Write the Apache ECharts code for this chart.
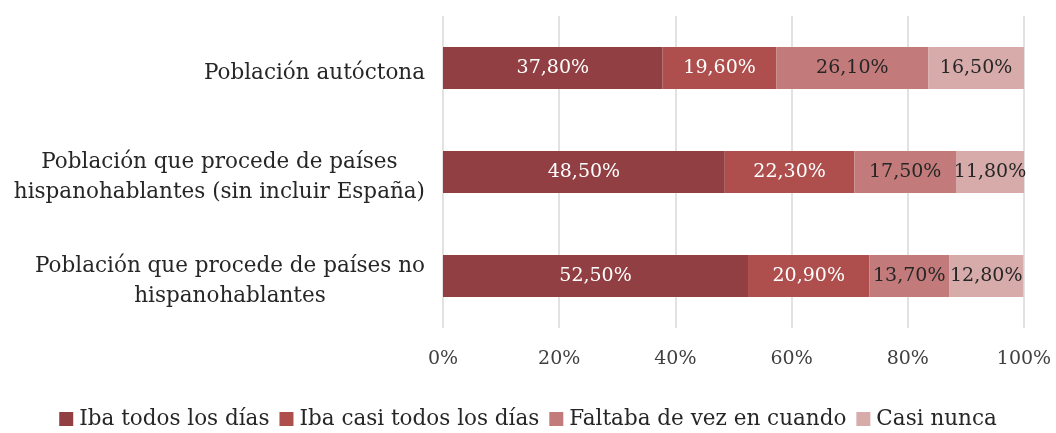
<!DOCTYPE html>
<html>
<head>
<meta charset="utf-8">
<script src="https://cdn.jsdelivr.net/npm/echarts@6/dist/echarts.min.js"></script>
<style>
  html, body { margin: 0; padding: 0; background: #fff; }
  #chart { width: 1056px; height: 433px; }
</style>
</head>
<body>
<div id="chart"></div>
<script>
// datos
var categorias = [
    'Población autóctona',
    'Población que procede de países\nhispanohablantes (sin incluir España)',
    'Población que procede de países no\nhispanohablantes'
];
var series = ['Iba todos los días', 'Iba casi todos los días', 'Faltaba de vez en cuando', 'Casi nunca'];
var todosDias = [37.8, 48.5, 52.5];
var casiTodos = [19.6, 22.3, 20.9];
var deVezEnCuando = [26.1, 17.5, 13.7];
var casiNunca = [16.5, 11.8, 12.8];
var ticks = [0, 20, 40, 60, 80, 100];

var colores = ['#913f42', '#ae4f4d', '#c27a7a', '#d8abab'];
var colorTexto = ['#ffffff', '#ffffff', '#262626', '#262626'];
var fuente = '"DejaVu Serif", "Liberation Serif", serif';

(function () {
    var myChart = echarts.init(document.getElementById('chart'));

    var valores = [todosDias, casiTodos, deVezEnCuando, casiNunca];

    var option = {
        animation: false,
        textStyle: { fontFamily: fuente },
        grid: {
            left: 443,
            right: 32,
            top: 16,
            bottom: 105
        },
        legend: {
            data: series,
            bottom: -2,
            left: 'center',
            itemWidth: 14,
            itemHeight: 14,
            itemGap: 10,
            icon: 'rect',
            textStyle: {
                fontFamily: fuente,
                fontSize: 21.5,
                color: '#262626',
                padding: [0, 0, 0, 1]
            }
        },
        xAxis: {
            type: 'value',
            min: 0,
            max: 100,
            interval: 20,
            axisLine: { show: false },
            axisTick: { show: false },
            splitLine: {
                show: true,
                lineStyle: { color: '#d9d9d9', width: 1.5 }
            },
            axisLabel: {
                margin: 22,
                fontFamily: fuente,
                fontSize: 19,
                color: '#404040',
                formatter: function (v) {
                    return ticks.indexOf(v) >= 0 ? v + '%' : '';
                }
            }
        },
        yAxis: {
            type: 'category',
            inverse: true,
            data: categorias,
            axisLine: { show: false },
            axisTick: { show: false },
            axisLabel: {
                margin: 18,
                align: 'right',
                padding: [11, 0, 0, 0],
                formatter: function (v) {
                    return v.split('\n').map(function (l) {
                        return '{c|' + l + '}';
                    }).join('\n');
                },
                rich: {
                    c: {
                        align: 'center',
                        fontFamily: fuente,
                        fontSize: 21.5,
                        lineHeight: 30,
                        color: '#262626'
                    }
                }
            }
        },
        series: series.map(function (nombre, i) {
            return {
                name: nombre,
                type: 'bar',
                stack: 'total',
                barWidth: 42,
                data: valores[i],
                itemStyle: { color: colores[i] },
                label: {
                    show: true,
                    position: 'inside',
                    fontFamily: fuente,
                    fontSize: 19,
                    color: colorTexto[i],
                    formatter: function (p) {
                        return p.value.toFixed(2).replace('.', ',') + '%';
                    }
                }
            };
        })
    };

    myChart.setOption(option);

    window.addEventListener('resize', function () {
        myChart.resize();
    });
})();
</script>
</body>
</html>
